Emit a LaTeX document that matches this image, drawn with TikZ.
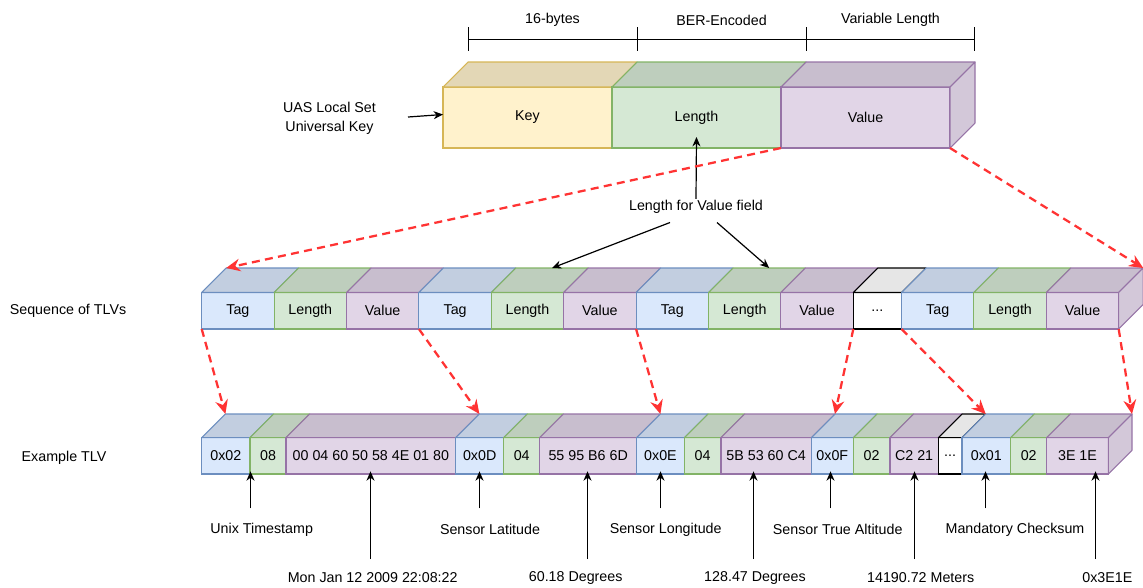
\documentclass[tikz,border=0pt]{standalone}
\usepackage{fontspec}
\setmainfont{Liberation Sans}
\usetikzlibrary{arrows.meta,calc}

% fills, strokes and shaded faces of the cube cells
\definecolor{bluF}{HTML}{DAE8FC}\definecolor{bluS}{HTML}{6C8EBF}
\definecolor{grnF}{HTML}{D5E8D4}\definecolor{grnS}{HTML}{82B366}
\definecolor{purF}{HTML}{E1D5E7}\definecolor{purS}{HTML}{9673A6}
\definecolor{yelF}{HTML}{FFF2CC}\definecolor{yelS}{HTML}{D6B656}
\definecolor{dotF}{HTML}{FFFFFF}\definecolor{dotS}{HTML}{000000}
\definecolor{dotT}{HTML}{E6E6E6}\definecolor{dotR}{HTML}{F0F0F0}
\definecolor{redA}{HTML}{FF3333}
\colorlet{bluT}{bluF!89!black}\colorlet{bluR}{bluF!94!black}
\colorlet{grnT}{grnF!89!black}\colorlet{grnR}{grnF!94!black}
\colorlet{purT}{purF!89!black}\colorlet{purR}{purF!94!black}
\colorlet{yelT}{yelF!89!black}\colorlet{yelR}{yelF!94!black}

\newcommand{\fsz}{\fontsize{10.7}{14.25}\selectfont}

\tikzset{
  cellface/.style={rectangle, inner sep=0pt, outer sep=0pt, line width=0.8pt, font=\fsz},
  cube edge/.style={line width=0.8pt, line join=round},
  lbl/.style={inner sep=1pt, font=\fsz, text=black},
  blkarrow/.style={draw=black, line width=0.9pt, -{Stealth[length=7pt,width=6pt,inset=2.2pt]}},
  redarrow/.style={draw=redA, line width=1.7pt, dash pattern=on 6pt off 4pt,
    -{Stealth[length=10.5pt,width=9.5pt,inset=3.5pt]}},
  dimline/.style={draw=black, line width=0.9pt},
}

% one cell of a cube strip: name, left, right, top, bottom, depth, colour key, text
\newcommand{\cubecell}[8]{%
  \pgfmathsetmacro\cw{(#3-#2)*0.75}%
  \pgfmathsetmacro\ch{(#5-#4)*0.75}%
  \node[cellface, fill=#7F, draw=#7S, minimum width=\cw pt, minimum height=\ch pt]
    (#1) at ({(#2+#3)/2},{(#4+#5)/2}) {#8};
  \filldraw[fill=#7T, draw=#7S, cube edge] (#1.north west) -- ++(#6,-#6)
    -- ($(#1.north east)+(#6,-#6)$) -- (#1.north east) -- cycle;
  \coordinate (#1-bl) at ($(#1.north west)+(#6,-#6)$);
  \coordinate (#1-br) at ($(#1.north east)+(#6,-#6)$);
}
% right-hand face closing a strip: name, depth, colour key
\newcommand{\cubeside}[3]{%
  \filldraw[fill=#3R, draw=#3S, cube edge] (#1.north east) -- ++(#2,-#2)
    -- ($(#1.south east)+(#2,-#2)$) -- (#1.south east) -- cycle;
}

\begin{document}
\begin{tikzpicture}[x=0.75pt, y=-0.75pt]
\useasboundingbox (0,0) rectangle (1143,587);

% ---- KLV packet ----
\cubecell{k}{443}{612}{87}{148}{25}{yel}{Key}
\cubecell{l}{612}{781}{87}{148}{25}{grn}{Length}
\cubecell{v}{781}{950}{87}{148}{25}{pur}{Value}
\cubeside{v}{25}{pur}

% size annotations above the packet
\draw[dimline] (468,39.5) -- (975,39.5);
\foreach \tx in {468.5,637.5,806.5,974.5} \draw[dimline] (\tx,27) -- (\tx,51);
\node[lbl] (d1) at (552.5,20) {16-bytes};
\node[lbl] (d2) at (721.5,20) {BER-Encoded};
\node[lbl] (d3) at (890.5,20) {Variable Length};

\node[lbl, align=center] (uas) at (329.5,118) {UAS Local Set\\Universal Key};
\coordinate (uasA) at (408,117);
\draw[blkarrow] (uasA) -- ($(k.west)+(0,-3)$);

% ---- sequence of TLVs ----
\node[lbl] (seq) at (68,310.5) {Sequence of TLVs};
\cubecell{m1}{201.7}{274.1}{292.5}{329}{24.5}{blu}{Tag}
\cubecell{m2}{274.1}{346.5}{292.5}{329}{24.5}{grn}{Length}
\cubecell{m3}{346.5}{418.9}{292.5}{329}{24.5}{pur}{Value}
\cubecell{m4}{418.9}{491.3}{292.5}{329}{24.5}{blu}{Tag}
\cubecell{m5}{491.3}{563.7}{292.5}{329}{24.5}{grn}{Length}
\cubecell{m6}{563.7}{636.1}{292.5}{329}{24.5}{pur}{Value}
\cubecell{m7}{636.1}{708.5}{292.5}{329}{24.5}{blu}{Tag}
\cubecell{m8}{708.5}{780.9}{292.5}{329}{24.5}{grn}{Length}
\cubecell{m9}{780.9}{853.3}{292.5}{329}{24.5}{pur}{Value}
\cubecell{m10}{853.3}{901.5}{292.5}{329}{24.5}{dot}{...}
\cubecell{m11}{901.5}{973.9}{292.5}{329}{24.5}{blu}{Tag}
\cubecell{m12}{973.9}{1046.3}{292.5}{329}{24.5}{grn}{Length}
\cubecell{m13}{1046.3}{1118.7}{292.5}{329}{24.5}{pur}{Value}
\cubeside{m13}{24.5}{pur}

% ---- example TLV bytes ----
\node[lbl] (ex) at (64,457.5) {Example TLV};
\cubecell{b1}{201.7}{250}{437.7}{474}{23.7}{blu}{0x02}
\cubecell{b2}{250}{286}{437.7}{474}{23.7}{grn}{08}
\cubecell{b3}{286}{455.7}{437.7}{474}{23.7}{pur}{00 04 60 50 58 4E 01 80}
\cubecell{b4}{455.7}{503.7}{437.7}{474}{23.7}{blu}{0x0D}
\cubecell{b5}{503.7}{539.7}{437.7}{474}{23.7}{grn}{04}
\cubecell{b6}{539.7}{636.7}{437.7}{474}{23.7}{pur}{55 95 B6 6D}
\cubecell{b7}{636.7}{684.3}{437.7}{474}{23.7}{blu}{0x0E}
\cubecell{b8}{684.3}{721}{437.7}{474}{23.7}{grn}{04}
\cubecell{b9}{721}{811.3}{437.7}{474}{23.7}{pur}{5B 53 60 C4}
\cubecell{b10}{811.3}{853.3}{437.7}{474}{23.7}{blu}{0x0F}
\cubecell{b11}{853.3}{890}{437.7}{474}{23.7}{grn}{02}
\cubecell{b12}{890}{938.3}{437.7}{474}{23.7}{pur}{C2 21}
\cubecell{b13}{938.3}{962}{437.7}{474}{23.7}{dot}{...}
\cubecell{b14}{962}{1010.7}{437.7}{474}{23.7}{blu}{0x01}
\cubecell{b15}{1010.7}{1046.7}{437.7}{474}{23.7}{grn}{02}
\cubecell{b16}{1046.7}{1108.3}{437.7}{474}{23.7}{pur}{3E 1E}
\cubeside{b16}{23.7}{pur}

% ---- length field pointers ----
\node[lbl] (lv) at (696,207) {Length for Value field};
\draw[blkarrow] (lv.north) -- ($(l.center)+(0,19.5)$);
\coordinate (lvL) at (670,222.5);
\coordinate (lvR) at (717,222.5);
\draw[blkarrow] (lvL) -- ($(m5-bl)!0.5!(m5-br)$);
\draw[blkarrow] (lvR) -- ($(m8-bl)!0.5!(m8-br)$);

% ---- expansion arrows ----
\draw[redarrow] (v.south west) -- (m1-bl);
\draw[redarrow] (v.south east) -- (m13-br);
\draw[redarrow] (m1.south west) -- (b1-bl);
\draw[redarrow] (m4.south west) -- (b4-bl);
\draw[redarrow] (m7.south west) -- (b7-bl);
\draw[redarrow] (m10.south west) -- (b10-bl);
\draw[redarrow] (m10.south east) -- (b14-bl);
\draw[redarrow] (m13.south east) -- (b16-br);

% ---- decoded meanings ----
\node[lbl] (n1) at (261.7,529.5) {Unix Timestamp};
\node[lbl] (n2) at (372.7,578) {Mon Jan 12 2009 22:08:22};
\node[lbl] (n3) at (490,529.5) {Sensor Latitude};
\node[lbl] (n4) at (575.7,578) {60.18 Degrees};
\node[lbl] (n5) at (665.7,529.5) {Sensor Longitude};
\node[lbl] (n6) at (755,578) {128.47 Degrees};
\node[lbl] (n7) at (837.7,529.5) {Sensor True Altitude};
\node[lbl] (n8) at (920.7,578) {14190.72 Meters};
\node[lbl] (n9) at (1015,529.5) {Mandatory Checksum};
\node[lbl] (n10) at (1107.3,578) {0x3E1E};

\foreach \nm/\ax/\ay/\cl in {p1/250.5/508.3/b1, p2/370.5/559/b3, p3/479.5/508.3/b4,
    p4/587.5/559/b6, p5/660.5/508.3/b7, p6/753.5/559/b9, p7/830.5/508.3/b10,
    p8/914.5/559/b12, p9/985.5/508.3/b14, p10/1095.5/559/b16} {
  \coordinate (\nm) at (\ax,\ay);
  \draw[blkarrow, shorten >=-2pt] (\nm) -- (\nm |- \cl.south);
}
\end{tikzpicture}
\end{document}
